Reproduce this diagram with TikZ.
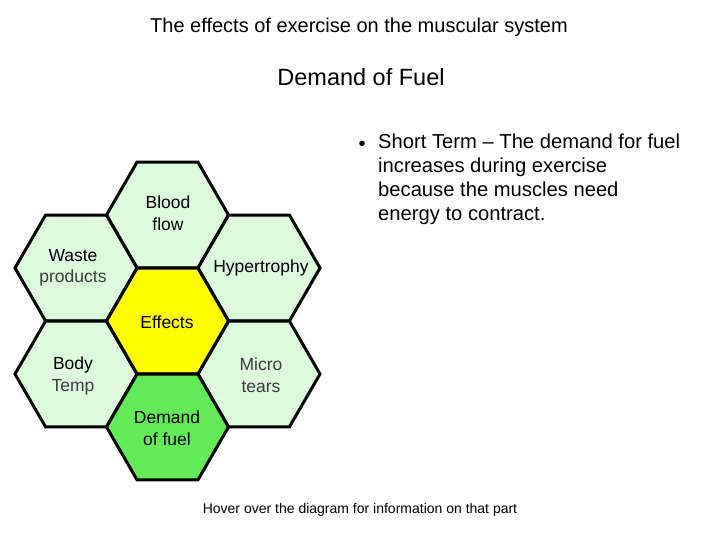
\documentclass[tikz,border=0pt]{standalone}
\usepackage{fontspec}
\setmainfont{Liberation Sans}
\definecolor{hexlight}{RGB}{221,250,221}
\definecolor{hexyellow}{RGB}{255,255,0}
\definecolor{hexgreen}{RGB}{98,234,88}
\definecolor{softtext}{RGB}{60,60,60}
\tikzset{
  hexcell/.style={draw=black, line width=3pt, line join=miter},
  lbl/.style={align=center, font=\fontsize{17.5}{21.5}\selectfont, inner sep=0pt},
}
\newcommand{\hexpath}[2]{%
  \filldraw[hexcell, fill=#2] (#1) ++(61pt,0) -- ++(-30.5pt,52.8pt) -- ++(-61pt,0)
    -- ++(-30.5pt,-52.8pt) -- ++(30.5pt,-52.8pt) -- ++(61pt,0) -- cycle;}
\begin{document}
\begin{tikzpicture}[x=1pt,y=-1pt]
\useasboundingbox (0,0) rectangle (720,540);
\fill[white] (0,0) rectangle (720,540);
% centres
\coordinate (cE) at (167.5,321);
\coordinate (cB) at (167.5,215);
\coordinate (cH) at (259,268);
\coordinate (cM) at (259,374);
\coordinate (cD) at (167.5,427);
\coordinate (cW) at (76,268);
\coordinate (cT) at (76,374);
\hexpath{cB}{hexlight}
\hexpath{cH}{hexlight}
\hexpath{cM}{hexlight}
\hexpath{cW}{hexlight}
\hexpath{cT}{hexlight}
\hexpath{cE}{hexyellow}
\hexpath{cD}{hexgreen}
% labels
\node[lbl] (blood) at (168,213) {Blood\\flow};
\node[lbl] (waste) at (73,268) {Waste\\\textcolor{softtext}{products}};
\node[lbl] (hyper) at (261,268) {Hypertrophy};
\node[lbl] (effects) at (167,322) {Effects};
\node[lbl] (body) at (73,376) {Body\\\textcolor{softtext}{Temp}};
\node[lbl] (micro) at (261,375) {\textcolor{softtext}{Micro}\\\textcolor{softtext}{tears}};
\node[lbl] (demand) at (167,428) {Demand\\of fuel};
% titles
\node[inner sep=0pt, font=\fontsize{20}{24}\selectfont] (title) at (359,27) {The effects of exercise on the muscular system};
\node[inner sep=0pt, font=\fontsize{23.5}{28}\selectfont] (sub) at (361,77) {Demand of Fuel};
% bullet
\node[inner sep=0pt, font=\fontsize{20}{24}\selectfont] (bullet) at (362,146) {•};
\node[anchor=north west, inner sep=0pt, align=left, font=\fontsize{20.2}{24}\selectfont] (txt) at (378,134)
  {Short Term – The demand for fuel\\increases during exercise\\because the muscles need\\energy to contract.};
\node[inner sep=0pt, font=\fontsize{14}{17}\selectfont] (hover) at (360,510) {Hover over the diagram for information on that part};
\end{tikzpicture}
\end{document}
